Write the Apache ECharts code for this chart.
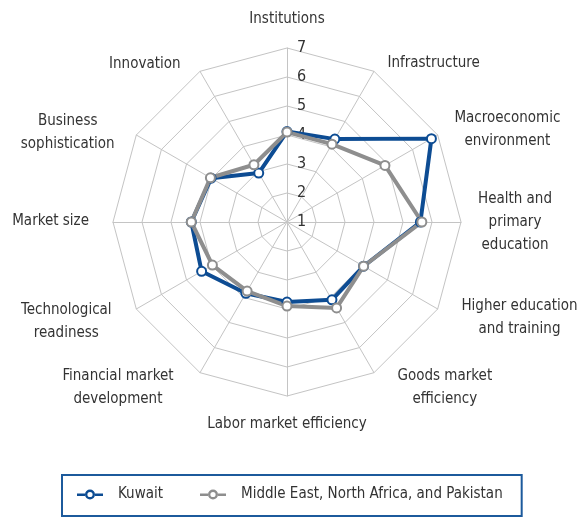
<!DOCTYPE html>
<html>
<head>
<meta charset="utf-8">
<script src="https://cdn.jsdelivr.net/npm/echarts@6/dist/echarts.min.js"></script>
<style>
  html, body { margin: 0; padding: 0; background: #fff; }
  #chart { width: 578px; height: 518px; }
</style>
</head>
<body>
<div id="chart"></div>
<script>
// pillars, clockwise from the top
var pillars = [
    'Institutions', 'Infrastructure', 'Macroeconomic\nenvironment', 'Health and\nprimary\neducation',
    'Higher education\nand training', 'Goods market\nefficiency', 'Labor market efficiency',
    'Financial market\ndevelopment', 'Technological\nreadiness', 'Market size',
    'Business\nsophistication', 'Innovation'
];
var kuwait = [4.12, 4.3, 6.75, 5.6, 4.05, 4.1, 3.76, 3.84, 4.4, 4.3, 4.02, 2.95];
var menap = [4.1, 4.1, 4.9, 5.65, 4.05, 4.42, 3.9, 3.75, 3.97, 4.3, 4.05, 3.28];
var seriesNames = ['Kuwait', 'Middle East, North Africa, and Pakistan'];
var scaleMin = 1, scaleMax = 7;

var FONT = "'Liberation Sans Narrow', 'DejaVu Sans Condensed', sans-serif";
var BLUE = '#0d4c93';
var GREY = '#8e8e8e';
// line + hollow circle legend icon
var ICON = 'path://M0,4 L8,4 L8,6.6 L0,6.6 Z M18,4 L26,4 L26,6.6 L18,6.6 Z ' +
    'M8,5 A5,5 0 1,1 18,5 A5,5 0 1,1 8,5 Z M10.4,5 A2.6,2.6 0 1,0 15.6,5 A2.6,2.6 0 1,0 10.4,5 Z';

// label nudges (x, y) so the names sit like the excel layout, same order as pillars
var nudge = [[0, 0], [5, 7], [2, 3], [0, 0], [9, 0], [15, 0], [0, 0],
             [-18, 0], [-10, 4], [-7, -1], [-7, 6], [-11, 8]];

// echarts radar runs counter-clockwise, so feed it in reverse after the first one
function cw(arr) {
    return [arr[0]].concat(arr.slice(1).reverse());
}

var indicators = cw(pillars.map(function (p, i) {
    var dx = nudge[i][0], dy = nudge[i][1];
    return {
        name: p, min: scaleMin, max: scaleMax,
        nameTextStyle: {
            padding: [Math.max(0, 2 * dy), Math.max(0, -dx), Math.max(0, -2 * dy), Math.max(0, dx)]
        }
    };
}));
indicators[0].axisLabel = { show: true };

var myChart = echarts.init(document.getElementById('chart'));
myChart.setOption({
    backgroundColor: '#fff',
    animation: false,
    textStyle: { fontFamily: FONT },
    legend: {
        left: 62,
        top: 475,
        padding: [12, 19, 14, 15],
        borderColor: '#1c5a9c',
        borderWidth: 2,
        itemWidth: 26,
        itemHeight: 10,
        itemGap: 37,
        textStyle: { fontSize: 15, color: '#333', fontFamily: FONT, padding: [0, 0, 0, 10] },
        data: [
            { name: seriesNames[0], icon: ICON, itemStyle: { color: BLUE, borderWidth: 0 } },
            { name: seriesNames[1], icon: ICON, itemStyle: { color: GREY, borderWidth: 0 } }
        ]
    },
    radar: {
        center: [287, 222],
        radius: 174,
        startAngle: 90,
        splitNumber: 6,
        shape: 'polygon',
        indicator: indicators,
        nameGap: 17,
        axisName: {
            color: '#333',
            fontSize: 15,
            fontFamily: FONT,
            formatter: function (name) {
                return name.split('\n').map(function (s) { return '{c|' + s + '}'; }).join('\n');
            },
            rich: {
                c: { align: 'center', fontSize: 15, lineHeight: 23, color: '#333', fontFamily: FONT }
            }
        },
        axisLabel: {
            show: false,
            fontSize: 16,
            color: '#333',
            fontFamily: FONT,
            align: 'left',
            margin: -10,
            padding: [0, 0, 6, 0]
        },
        axisLine: { lineStyle: { color: '#c4c4c4', width: 1 } },
        splitLine: { lineStyle: { color: '#c4c4c4', width: 1 } },
        splitArea: { show: false }
    },
    series: [
        {
            type: 'radar',
            symbol: 'emptyCircle',
            symbolSize: 9,
            data: [
                {
                    name: seriesNames[0],
                    value: cw(kuwait),
                    lineStyle: { color: BLUE, width: 4 },
                    itemStyle: { color: BLUE, borderColor: BLUE, borderWidth: 3 }
                }
            ]
        },
        {
            type: 'radar',
            symbol: 'emptyCircle',
            symbolSize: 9,
            data: [
                {
                    name: seriesNames[1],
                    value: cw(menap),
                    lineStyle: { color: GREY, width: 4 },
                    itemStyle: { color: GREY, borderColor: GREY, borderWidth: 3 }
                }
            ]
        }
    ]
});
</script>
</body>
</html>
